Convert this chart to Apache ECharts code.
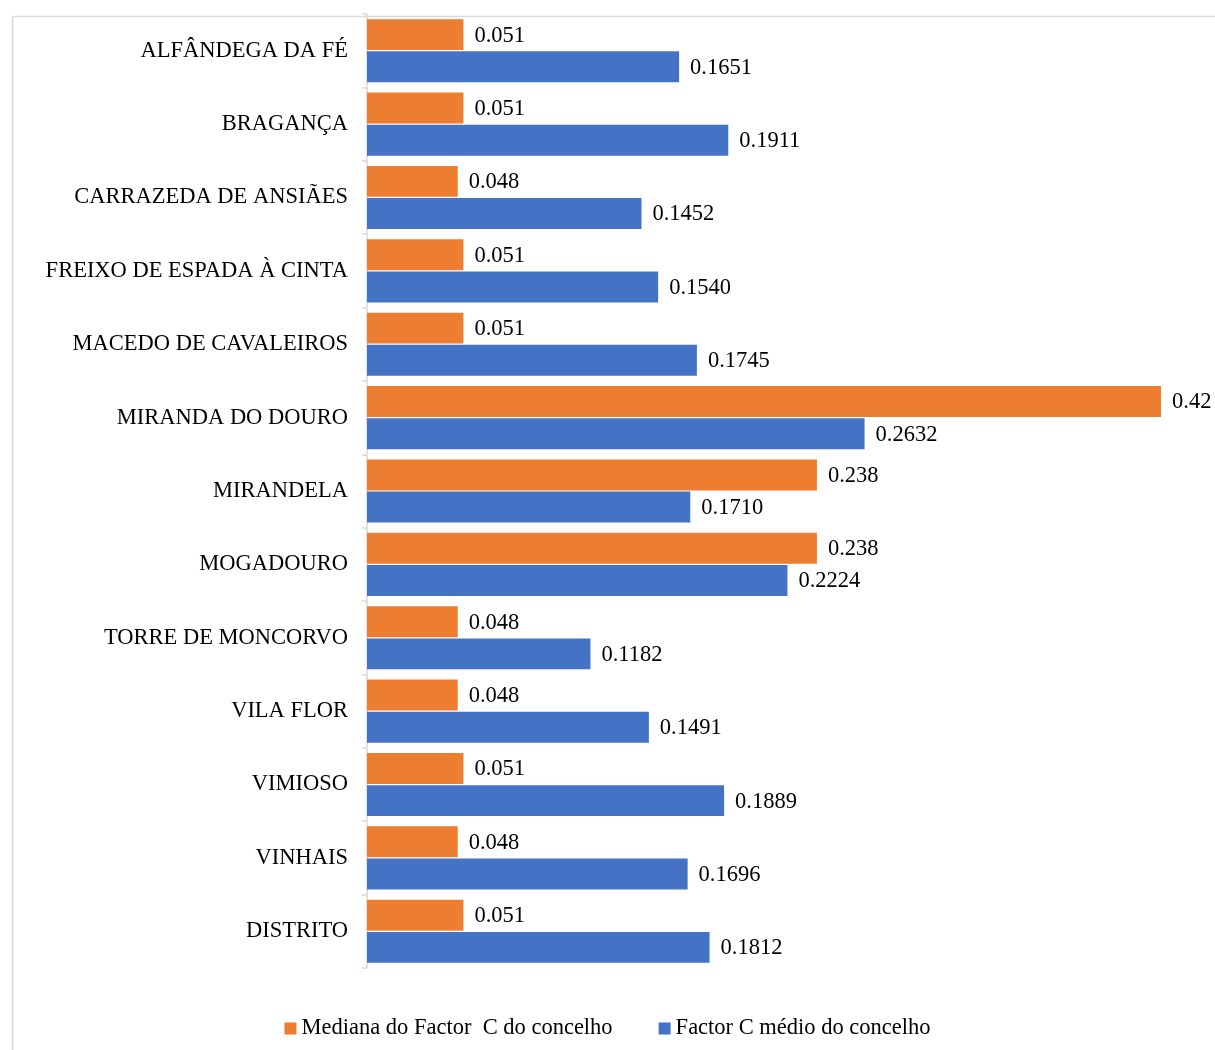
<!DOCTYPE html>
<html>
<head>
<meta charset="utf-8">
<script src="https://cdn.jsdelivr.net/npm/echarts@6/dist/echarts.min.js"></script>
<style>
html,body{margin:0;padding:0;background:#fff;}
#chart{width:1215px;height:1050px;}
</style>
</head>
<body>
<div id="chart"></div>
<script>
const categories = ["ALFÂNDEGA DA FÉ","BRAGANÇA","CARRAZEDA DE ANSIÃES","FREIXO DE ESPADA À CINTA","MACEDO DE CAVALEIROS","MIRANDA DO DOURO","MIRANDELA","MOGADOURO","TORRE DE MONCORVO","VILA FLOR","VIMIOSO","VINHAIS","DISTRITO"];
const medianaValues = [0.051,0.051,0.048,0.051,0.051,0.42,0.238,0.238,0.048,0.048,0.051,0.048,0.051];
const medioValues = [0.1651,0.1911,0.1452,0.1540,0.1745,0.2632,0.1710,0.2224,0.1182,0.1491,0.1889,0.1696,0.1812];
const seriesNames = ["Mediana do Factor  C do concelho","Factor C médio do concelho"];

const FONT = '"Liberation Serif","Times New Roman",serif';
const FS = 22.5;
const chart = echarts.init(document.getElementById('chart'));
chart.setOption({
  animation: false,
  textStyle: {fontFamily: FONT},
  graphic: [{
    type: 'rect', left: 10, top: 14,
    shape: {width: 1300, height: 1200},
    style: {fill: 'none', stroke: '#d9d9d9', lineWidth: 1.5},
    silent: true
  }],
  grid: {left: 367, right: 54, top: 14, bottom: 82},
  legend: {
    bottom: 5, left: 'center',
    itemWidth: 12, itemHeight: 12, itemGap: 46,
    icon: 'rect',
    textStyle: {fontFamily: FONT, fontSize: FS, color: '#000'},
    data: seriesNames
  },
  xAxis: {type: 'value', min: 0, max: 0.42, show: false, splitLine: {show: false}},
  yAxis: {
    type: 'category', data: categories, inverse: true,
    axisLine: {lineStyle: {color: '#d9d9d9', width: 1.5}},
    axisTick: {show: true, length: 5, lineStyle: {color: '#d9d9d9', width: 1.5}},
    axisLabel: {fontFamily: FONT, fontSize: FS, color: '#000', margin: 19}
  },
  series: [
    {
      name: seriesNames[0], type: 'bar', data: medianaValues,
      itemStyle: {color: '#ED7D31'},
      barGap: '4%', barCategoryGap: '14%',
      label: {show: true, position: 'right', distance: 11, offset: [0, 1], fontFamily: FONT, fontSize: FS, color: '#000',
        formatter: p => String(p.value)}
    },
    {
      name: seriesNames[1], type: 'bar', data: medioValues,
      itemStyle: {color: '#4472C4'},
      barGap: '4%', barCategoryGap: '14%',
      label: {show: true, position: 'right', distance: 11, offset: [0, 1], fontFamily: FONT, fontSize: FS, color: '#000',
        formatter: p => p.value.toFixed(4)}
    }
  ]
});
</script>
</body>
</html>
